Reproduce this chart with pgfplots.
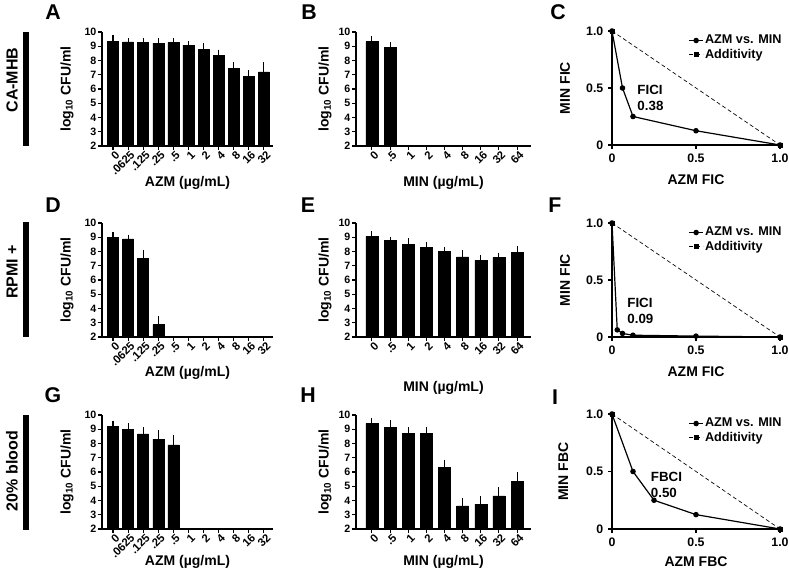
\documentclass[border=0pt]{standalone}
\usepackage{fontspec}
\setmainfont{Liberation Sans}
\usepackage{pgfplots}
\pgfplotsset{compat=1.18}
\usepackage{pgfplotstable}

\pgfplotstableread{
x y e
0 9.35 0.18
1 9.30 0.05
2 9.28 0.10
3 9.22 0.10
4 9.28 0.10
5 9.08 0.05
6 8.78 0.20
7 8.38 0.15
8 7.45 0.20
9 6.88 0.20
10 7.20 0.45
}\tabA
\pgfplotstableread{
x y e
0 9.33 0.15
1 8.93 0.13
}\tabB
\pgfplotstableread{
x y e
0 9.00 0.15
1 8.88 0.07
2 7.50 0.38
3 2.87 0.35
}\tabD
\pgfplotstableread{
x y e
0 9.07 0.10
1 8.76 0.03
2 8.50 0.20
3 8.30 0.15
4 8.02 0.08
5 7.62 0.25
6 7.38 0.15
7 7.58 0.10
8 7.95 0.20
}\tabE
\pgfplotstableread{
x y e
0 9.18 0.18
1 9.00 0.20
2 8.68 0.25
3 8.30 0.38
4 7.90 0.45
}\tabG
\pgfplotstableread{
x y e
0 9.42 0.12
1 9.15 0.25
2 8.72 0.17
3 8.72 0.22
4 6.33 0.30
5 3.62 0.30
6 3.72 0.35
7 4.33 0.40
8 5.33 0.45
}\tabH

\pgfplotsset{
  base/.style={
    scale only axis,
    axis x line=bottom, axis y line=left,
    axis line style={-, line width=0.9pt},
    tick align=outside, major tick length=3pt,
    every tick/.style={black, line width=0.8pt},
    /pgf/number format/assume math mode=true,
    label style={font=\fontsize{10.5}{12}\selectfont\bfseries},
  },
  bars/.style={
    base, width=128.25pt, height=85.5pt,
    ymin=2, ymax=10, ytick={2,...,10},
    yticklabel style={font=\fontsize{8}{9}\selectfont\bfseries, inner sep=1pt},
    xticklabel style={rotate=45, anchor=east, font=\fontsize{8.5}{9}\selectfont\bfseries, inner sep=0.5pt, xshift=1.5pt, yshift=-4pt},
    ylabel={log\textsubscript{10} CFU/ml},
  },
  azm/.style={bars, xmin=-0.73, xmax=10.6, xtick={0,...,10},
    xticklabels={0,.0625,.125,.25,.5,1,2,4,8,16,32},
    xlabel={AZM (µg/mL)}, ylabel style={at={(axis description cs:-0.205,0.5)}, anchor=center}},
  minb/.style={bars, width=131.25pt, xmin=-0.88, xmax=8.77, xtick={0,...,8},
    xticklabels={0,.5,1,2,4,8,16,32,64},
    xlabel={MIN (µg/mL)}, ylabel style={at={(axis description cs:-0.177,0.5)}, anchor=center}},
  fic/.style={
    base, width=126pt, height=85.5pt, clip=false,
    xmin=0, xmax=1, ymin=0, ymax=1,
    xtick={0,0.5,1}, xticklabels={0,0.5,1.0},
    ytick={0,0.5,1}, yticklabels={0,0.5,1.0},
    ticklabel style={font=\fontsize{9.25}{11}\selectfont\bfseries},
    legend style={draw=none, fill=none, at={(1.02,0.98)}, anchor=north east,
      font=\fontsize{9.5}{10}\selectfont\bfseries, inner sep=0pt, row sep=0pt,
      nodes={inner sep=1.2pt}},
    legend cell align=left,
    legend image code/.code={\draw[mark repeat=2,mark phase=2,##1] plot coordinates {(0pt,0pt) (5pt,0pt) (10pt,0pt)};},
  },
  barplot/.style={ybar, fill=black, draw=black,
    error bars/y dir=plus, error bars/y explicit,
    error bars/error bar style={line width=0.8pt, black},
    error bars/error mark options={line width=0.8pt, mark size=2.5pt, black}},
  curve/.style={black, line width=0.9pt, mark=*, mark size=1.6pt},
  addit/.style={black, densely dashed, line width=0.5pt, mark=square*, mark size=1.5pt, mark options={solid}},
}

\begin{document}
\begin{tikzpicture}
\useasboundingbox (0,0) rectangle (591.75pt,-427.5pt);

% row labels
\node[rotate=90, font=\fontsize{12}{14}\selectfont\bfseries] at (9pt,-60pt) {CA-MHB};
\fill[black] (17.25pt,-24pt) rectangle (21.75pt,-109.5pt);
\node[rotate=90, font=\fontsize{12}{14}\selectfont\bfseries] at (9pt,-204pt) {RPMI +};
\fill[black] (17.25pt,-166.5pt) rectangle (21.75pt,-252.75pt);
\node[rotate=90, font=\fontsize{12}{14}\selectfont\bfseries] at (9pt,-353.25pt) {20\% blood};
\fill[black] (17.25pt,-311.25pt) rectangle (21.75pt,-397.5pt);

% panel letters
\begin{scope}[every node/.style={font=\fontsize{16}{18}\selectfont\bfseries}]
\node at (39.75pt,-9pt) {A};
\node at (231.75pt,-9pt) {B};
\node at (418.5pt,-9pt) {C};
\node at (39.75pt,-153.75pt) {D};
\node at (231pt,-153.75pt) {E};
\node at (416.25pt,-153.75pt) {F};
\node at (39.75pt,-296.25pt) {G};
\node at (231pt,-296.25pt) {H};
\node at (416.25pt,-297.75pt) {I};
\end{scope}

% A
\begin{axis}[azm, at={(76.5pt,-109.5pt)}, anchor=south west,
  xlabel style={at={(axis description cs:0.5,-0.325)}, anchor=center}]
\addplot[bar width=8.25pt, barplot] table[x=x,y=y,y error=e]{\tabA};
\end{axis}
% B
\begin{axis}[minb, at={(267pt,-109.5pt)}, anchor=south west,
  xlabel style={at={(axis description cs:0.5,-0.325)}, anchor=center}]
\addplot[bar width=9pt, barplot] table[x=x,y=y,y error=e]{\tabB};
\end{axis}
% C
\begin{axis}[fic, at={(459pt,-108.75pt)}, anchor=south west,
  xlabel={AZM FIC}, ylabel={MIN FIC},
  xlabel style={at={(axis description cs:0.5,-0.307)}, anchor=center},
  ylabel style={at={(axis description cs:-0.28,0.5)}, anchor=center}]
\addplot[curve] coordinates {(0,1) (0.0625,0.5) (0.125,0.25) (0.5,0.125) (1,0)};
\addlegendentry{AZM vs. MIN}
\addplot[addit] coordinates {(0,1) (1,0)};
\addlegendentry{Additivity}
\node[anchor=west, align=left, inner sep=0pt, font=\fontsize{10}{12}\selectfont\bfseries] at (axis cs:0.15,0.41) {FICI\\0.38};
\end{axis}

% D
\begin{axis}[azm, at={(76.5pt,-252.75pt)}, anchor=south west,
  xlabel style={at={(axis description cs:0.5,-0.316)}, anchor=center}]
\addplot[bar width=8.25pt, barplot] table[x=x,y=y,y error=e]{\tabD};
\end{axis}
% E
\begin{axis}[minb, at={(267pt,-252.75pt)}, anchor=south west,
  xlabel style={at={(axis description cs:0.5,-0.447)}, anchor=center}]
\addplot[bar width=9pt, barplot] table[x=x,y=y,y error=e]{\tabE};
\end{axis}
% F
\begin{axis}[fic, at={(459pt,-252.75pt)}, anchor=south west,
  xlabel={AZM FIC}, ylabel={MIN FIC},
  xlabel style={at={(axis description cs:0.5,-0.307)}, anchor=center},
  ylabel style={at={(axis description cs:-0.28,0.5)}, anchor=center}]
\addplot[curve] coordinates {(0,1) (0.03125,0.0625) (0.0625,0.03125) (0.125,0.0156) (0.5,0.0078) (1,0)};
\addlegendentry{AZM vs. MIN}
\addplot[addit] coordinates {(0,1) (1,0)};
\addlegendentry{Additivity}
\node[anchor=west, align=left, inner sep=0pt, font=\fontsize{10}{12}\selectfont\bfseries] at (axis cs:0.09,0.23) {FICI\\0.09};
\end{axis}

% G
\begin{axis}[azm, at={(76.5pt,-396.75pt)}, anchor=south west,
  xlabel style={at={(axis description cs:0.5,-0.289)}, anchor=center}]
\addplot[bar width=8.25pt, barplot] table[x=x,y=y,y error=e]{\tabG};
\end{axis}
% H
\begin{axis}[minb, at={(267pt,-396.75pt)}, anchor=south west,
  xlabel style={at={(axis description cs:0.5,-0.289)}, anchor=center}]
\addplot[bar width=9pt, barplot] table[x=x,y=y,y error=e]{\tabH};
\end{axis}
% I
\begin{axis}[fic, at={(459pt,-396.75pt)}, anchor=south west, height=86.25pt,
  xlabel={AZM FBC}, ylabel={MIN FBC},
  xlabel style={at={(axis description cs:0.5,-0.287)}, anchor=center},
  ylabel style={at={(axis description cs:-0.29,0.5)}, anchor=center}]
\addplot[curve] coordinates {(0,1) (0.125,0.5) (0.25,0.25) (0.5,0.125) (1,0)};
\addlegendentry{AZM vs. MIN}
\addplot[addit] coordinates {(0,1) (1,0)};
\addlegendentry{Additivity}
\node[anchor=west, align=left, inner sep=0pt, font=\fontsize{10}{12}\selectfont\bfseries] at (axis cs:0.23,0.38) {FBCI\\0.50};
\end{axis}
\end{tikzpicture}
\end{document}
